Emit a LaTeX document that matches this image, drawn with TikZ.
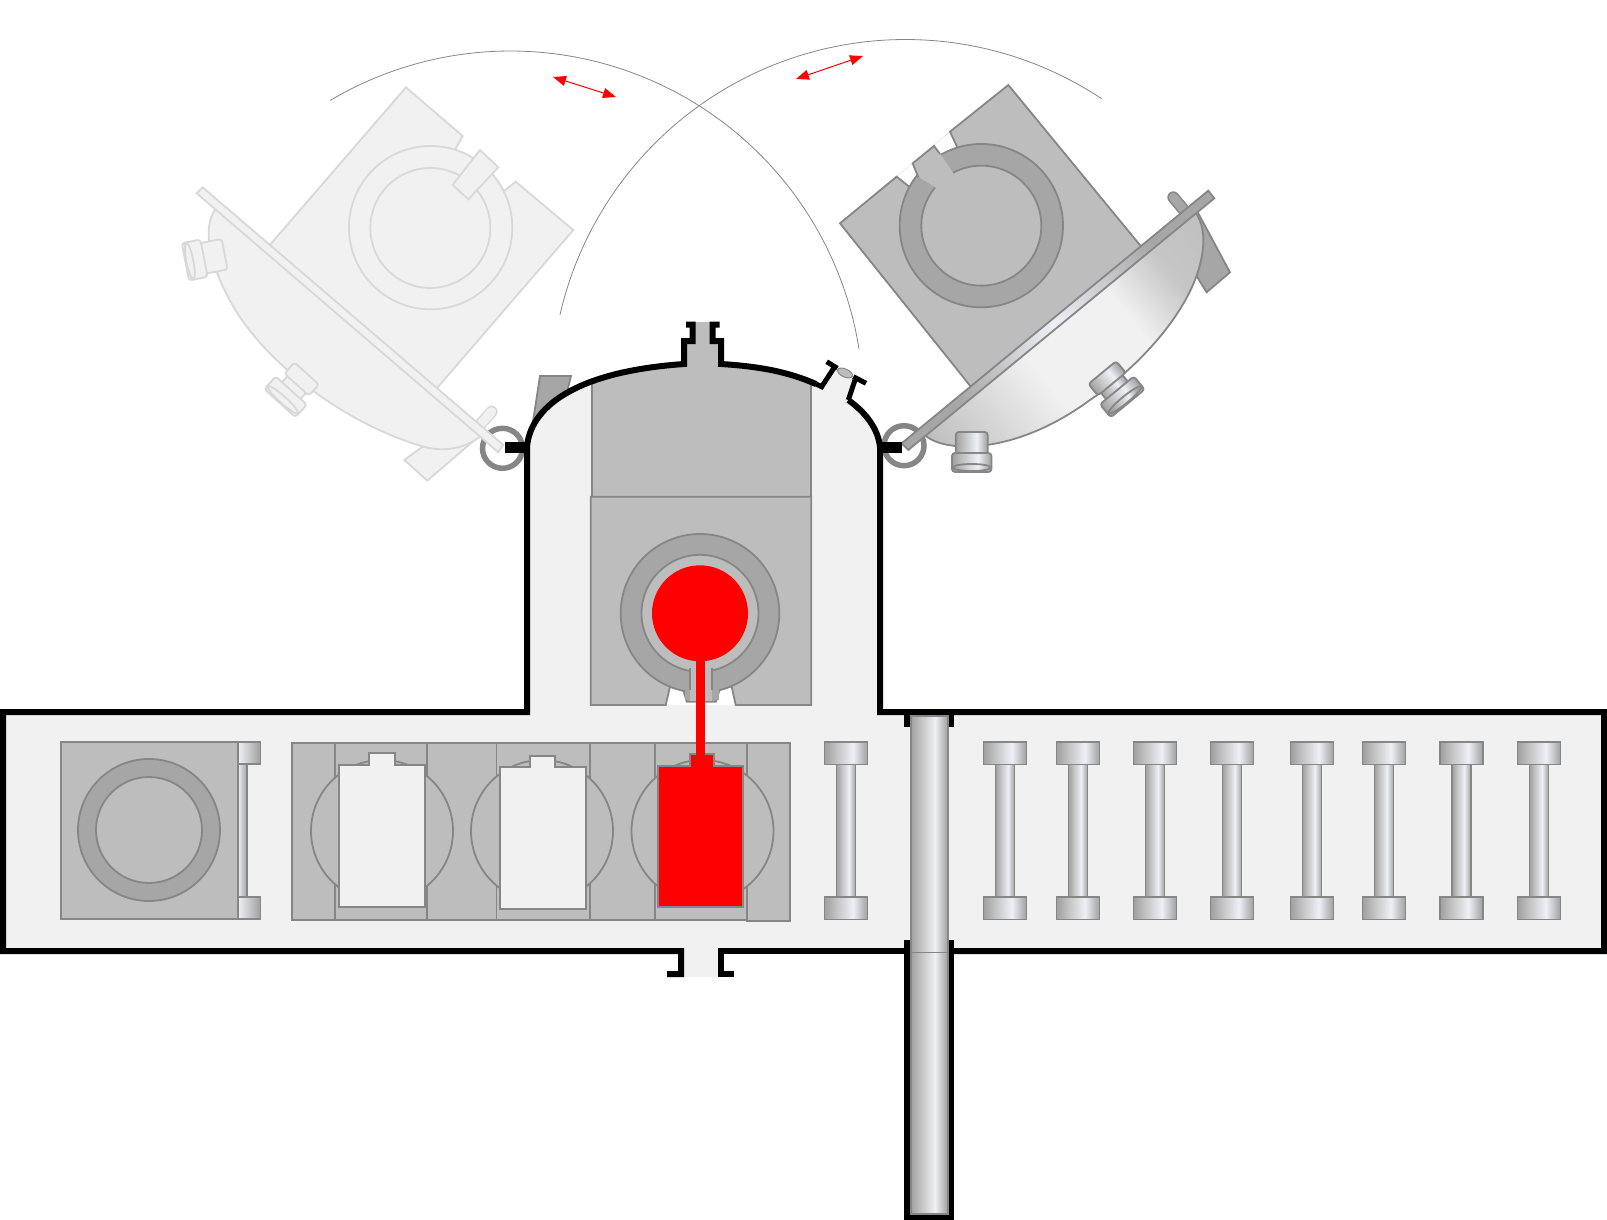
\documentclass[tikz,border=0pt]{standalone}
\usetikzlibrary{arrows.meta}
\definecolor{chamberGray}{HTML}{F1F1F1}
\definecolor{partGray}{HTML}{BDBDBD}
\definecolor{ringGray}{HTML}{A6A6A6}
\definecolor{edgeGray}{HTML}{868686}
\definecolor{fadeGray}{HTML}{D8D8D8}
\definecolor{metalDark}{HTML}{A0A0A0}
\definecolor{metalMid}{HTML}{C6C6C6}
\definecolor{metalLight}{HTML}{EEF0F5}
\pgfdeclarehorizontalshading{metalBar}{100bp}{color(0bp)=(metalDark); color(25bp)=(metalDark);
  color(40bp)=(metalMid); color(58bp)=(metalLight); color(75bp)=(metalDark); color(100bp)=(metalDark)}
\pgfdeclarehorizontalshading{metalHalf}{100bp}{color(0bp)=(metalLight); color(25bp)=(metalLight);
  color(75bp)=(metalDark); color(100bp)=(metalDark)}
% along the door axis, measured from the hinge
\pgfdeclarehorizontalshading{bowlMetal}{500pt}{color(0pt)=(metalDark); color(40pt)=(partGray);
  color(170pt)=(chamberGray); color(275pt)=(chamberGray); color(335pt)=(metalMid); color(420pt)=(partGray)}
\pgfdeclarehorizontalshading{plateMetal}{500pt}{color(0pt)=(ringGray); color(90pt)=(ringGray);
  color(212pt)=(metalLight); color(340pt)=(ringGray); color(420pt)=(ringGray)}
\tikzset{%
  >={Triangle[width=10pt,length=13pt]},
  % Specifications for style of shapes:
        shell/.style = {draw=black, line width=6pt},
         part/.style = {draw=edgeGray, line width=1.8pt, fill=partGray},
     ringPart/.style = {part, fill=ringGray},
        metal/.style = {draw=edgeGray, line width=1.8pt, shade, shading=metalBar},
    halfMetal/.style = {metal, shading=metalHalf},
        faded/.style = {draw=fadeGray, line width=1.8pt, fill=chamberGray},
        swing/.style = {draw=edgeGray, line width=0.8pt},
       motion/.style = {<->, red, line width=1pt},
}
% door port: position, rotation, looks, half widths of both parts, lower end of the first, upper end of the second
\newcommand{\doorPort}[7]{%
  \begin{scope}[shift={#1}, rotate=#2]
    \path[#3] (-#4+4,#6-2) rectangle (#4-4,#7+2);
    \path[#3, rounded corners=3pt] (-#4,#6) -- (-#4,-20) -- (#4,-20) -- (#4,#6) -- cycle;
    \path[#3, rounded corners=3pt] (-#5,#7) -- (#5,#7) -- (#5,20) -- (-#5,20) -- cycle;
    \path[#3] (0,15.5) ellipse (#5-0.7 and 3.5);
  \end{scope}}
\begin{document}
\begin{tikzpicture}[x=1pt, y=1pt, yscale=-1, line join=miter]
  \useasboundingbox (0,0) rectangle (1607,1220);

  % swing of the doors
  \draw[swing] (510.3,404) ++(-120.7:353pt) arc[start angle=-120.7, end angle=-9, radius=353pt];
  \draw[swing] (905.5,394) ++(-167.1:354.5pt) arc[start angle=-167.1, end angle=-56.4, radius=354.5pt];
  \coordinate (swingLeftA) at (553,77);
  \coordinate (swingLeftB) at (616,97);
  \coordinate (swingRightA) at (796,79);
  \coordinate (swingRightB) at (863,56);
  \draw[motion] (swingLeftA) -- (swingLeftB);
  \draw[motion] (swingRightA) -- (swingRightB);

  % hinges
  \draw[edgeGray, line width=5.5pt] (502.5,448.3) circle (20);
  \draw[edgeGray, line width=5.5pt] (904,445.7) circle (20);

  % open door, faded
  \begin{scope}[shift={(170,60)}, scale=0.3333]
    \path[faded] (703,1200) -- (772,1262) -- (920,1135) -- (840,1100) -- cycle;
    \path[faded] (708,82) -- (878,228) -- (855,270) -- (895,292) -- (1000,395) -- (1037,365)
      -- (1210,510) -- (792,995) -- (290,566) -- cycle;
    \path[faded] (782,503) circle (245);
    \path[faded] (781,504) circle (180);
    \path[faded] (930,270) -- (985,322) -- (895,418) -- (848,375) -- cycle;
    \draw[fadeGray, line width=12pt, line cap=round] (965,1055) -- (925,1100);
    \draw[chamberGray, line width=9pt, line cap=round] (965,1055) -- (925,1100);
    \path[faded] (135,430) -- (135,450) .. controls (100,500) and (110,600) .. (190,740)
      .. controls (290,910) and (520,1090) .. (760,1160)
      .. controls (830,1180) and (900,1160) .. (940,1121) -- cycle;
    \path[faded] (98,382) -- (80,400) -- (985,1177) -- (1000,1155) -- cycle;
  \end{scope}
  \doorPort{(205,258)}{79}{faded}{15.5}{19}{3}{1}
  \doorPort{(293.3,388.3)}{42}{faded}{16.5}{21}{-5}{3}

  % open door, right
  \begin{scope}[shift={(840,60)}, scale=0.3333]
    \draw[edgeGray, line width=12pt, line cap=round] (1000,412) -- (1040,460);
    \draw[ringGray, line width=9pt, line cap=round] (1000,412) -- (1040,460);
    \path[ringPart] (1075,460) -- (1170,637) -- (1100,697) -- (1040,600) -- cycle;
    \draw[partGray!60, line width=0.3pt] (170,350) -- (330,215);
    \path[part] (0,490) -- (170,350) -- (210,382) -- (352,262) -- (330,215) -- (505,75)
      -- (912,570) -- (402,992) -- cycle;
    \path[ringPart] (424,497) circle (245);
    \path[part] (424,497) circle (180);
    \fill[partGray] (218,310) -- (282,258) -- (300,280) -- (342,343) -- (290,385) -- (238,352) -- cycle;
    \draw[edgeGray, line width=1.8pt] (235,352) -- (218,310) -- (282,258) -- (300,282);
    % bowl and plate, the shading runs along the door
    \begin{scope}
      \clip (250,1115) -- (250,1120) .. controls (300,1180) and (520,1190) .. (750,1020)
        .. controls (900,920) and (1090,720) .. (1090,540)
        .. controls (1090,510) and (1085,490) .. (1070,462) -- (1070,439) -- cycle;
      \node (bowlShade) [rotate=39.5, inner sep=0pt] at (606,760) {\pgfuseshading{bowlMetal}};
    \end{scope}
    \draw[edgeGray, line width=1.8pt] (250,1120) .. controls (300,1180) and (520,1190) .. (750,1020)
      .. controls (900,920) and (1090,720) .. (1090,540)
      .. controls (1090,510) and (1085,490) .. (1070,462);
    \begin{scope}
      \clip (1105,392) -- (1123,415) -- (205,1170) -- (185,1150) -- cycle;
      \node (plateShade) [rotate=39.5, inner sep=0pt] at (606,760) {\pgfuseshading{plateMetal}};
    \end{scope}
    \draw[edgeGray, line width=1.8pt] (1105,392) -- (1123,415) -- (205,1170) -- (185,1150) -- cycle;
  \end{scope}
  \doorPort{(971.7,452)}{0}{metal}{16}{19.7}{3}{1}
  \doorPort{(1115,388)}{-39.5}{metal, shading angle=39.5}{18}{22}{-5}{3}

  % arm of the closed door
  \path[ringPart] (540,376) -- (571,376) -- (565,400) -- (532,428) -- cycle;

  % chamber
  \fill[chamberGray] (3,712) -- (527,712) -- (527,447) .. controls (530,410) and (570,372) .. (684,364)
    -- (684,341) -- (692.5,341) -- (692.5,325) -- (712.5,325) -- (712.5,341) -- (721,341) -- (721,364)
    .. controls (770,367) and (795,375) .. (816,384) -- (821.7,386.7) -- (834,366) -- (856,380)
    -- (848.3,400) .. controls (865,412) and (878,428) .. (880,447) -- (880,712)
    -- (1604,712) -- (1604,951) -- (718,951) -- (718,977) -- (684,977) -- (684,951) -- (3,951) -- cycle;
  \fill[partGray] (695,322) -- (712,322) -- (712,341) -- (718,341) -- (718,370) -- (687,370) -- (687,341)
    -- (695,341) -- cycle;

  % furnace in the dome
  \begin{scope}
    \clip (527,520) -- (527,447) .. controls (530,410) and (570,372) .. (684,364) -- (721,364)
      .. controls (770,367) and (795,375) .. (816,384) -- (848.3,400)
      .. controls (865,412) and (878,428) .. (880,447) -- (880,520) -- cycle;
    \path[part] (592.3,340) rectangle (811.3,496.7);
  \end{scope}
  \fill[white] (665.7,705) -- (670,680) -- (732,680) -- (735.7,705) -- cycle;
  \path[part] (590.7,496.7) -- (811.3,496.7) -- (811.3,705) -- (735.7,705) -- (731.7,686.7) -- (670,686.7)
    -- (665.7,705) -- (590.7,705) -- cycle;
  \path[ringPart] (683.3,690) -- (686.7,701.7) -- (716,701.7) -- (719.5,690) -- cycle;
  \path[ringPart] (700,613.3) circle (79.3);
  \fill[ringGray] (684.5,684) rectangle (718.5,700);
  \path[part] (700,613.3) circle (58.5);
  \fill[partGray] (690,655) rectangle (712,701);
  \draw[edgeGray, line width=1.8pt] (690,668) -- (690,690) (712,668) -- (712,690);
  \fill[red] (700,613.3) circle (48);

  % block next to the furnace
  \path[halfMetal] (238,764) rectangle (247,897);
  \path[halfMetal] (238,741.7) rectangle (260.4,764);
  \path[halfMetal] (238,896.7) rectangle (260.4,919);
  \path[part] (61,741.7) rectangle (238,919);
  \path[ringPart] (149,830) circle (71);
  \path[part] (149,830) circle (53);

  % rack with the cells
  \path[part] (292,743) rectangle (746.7,920);
  \foreach \divx in {335,427,496.4,590,655}
    \draw[edgeGray, line width=1.8pt] (\divx,743) -- (\divx,920);
  \path[part] (746.7,743) rectangle (790,921);
  \foreach \circx in {382,542,702.5}
    \path[part] (\circx,831) circle (71);
  \path[part, fill=chamberGray] (338.6,765) -- (369,765) -- (369,753.3) -- (394.6,753.3) -- (394.6,765)
    -- (425,765) -- (425,906.7) -- (338.6,906.7) -- cycle;
  \path[part, fill=chamberGray] (500,766.7) -- (529.6,766.7) -- (529.6,755.7) -- (555,755.7) -- (555,766.7)
    -- (586,766.7) -- (586,909) -- (500,909) -- cycle;
  \path[part, fill=red] (658.3,765.7) -- (690,765.7) -- (690,754.3) -- (714,754.3) -- (714,765.7)
    -- (743.3,765.7) -- (743.3,906.7) -- (658.3,906.7) -- cycle;
  \fill[red] (696,655) rectangle (705,760);

  % spools
  \foreach \barx in {846,1005,1078,1155,1232,1312,1384,1461.3,1539} {
    \path[metal] (\barx-9.5,764) rectangle (\barx+9.5,897);
    \path[metal] (\barx-21.5,742) rectangle (\barx+21.5,764.5);
    \path[metal] (\barx-21.5,897) rectangle (\barx+21.5,919.5);
  }

  % walls
  \draw[shell] (667,974) -- (681,974) -- (681,951) -- (3,951) -- (3,712) -- (527,712) -- (527,447)
    .. controls (530,410) and (570,372) .. (684,364)
    -- (684,341) -- (692.5,341) -- (692.5,324.7) -- (686,324.7);
  \draw[shell] (719.5,324.7) -- (712.5,324.7) -- (712.5,341) -- (721,341) -- (721,364)
    .. controls (770,367) and (795,375) .. (816,384);
  \draw[shell, line width=5pt] (816,384) -- (821.7,386.7) -- (834.5,367);
  \draw[shell, line width=5pt] (826.7,361.7) -- (837.3,368.3);
  \draw[shell, line width=5pt] (853.3,376.7) -- (866,383.3);
  \draw[shell, line width=5pt] (855,380) -- (848.3,400);
  \draw[shell] (848.3,400) .. controls (865,412) and (878,428) .. (880,447) -- (880,712) -- (1604,712)
    -- (1604,951) -- (951,951);
  \draw[shell] (733.7,974) -- (721,974) -- (721,951) -- (904,951);
  \fill[black] (505,442) rectangle (530,453);
  \fill[black] (877,442) rectangle (902,453);
  \path[draw=edgeGray, line width=1pt, fill=partGray, rotate around={25:(845,373)}] (845,373) ellipse (8 and 4);

  % rod
  \draw[shell] (907.3,715) -- (907.3,727);
  \draw[shell] (951,715) -- (951,727);
  \draw[shell] (907.3,940) -- (907.3,1217) -- (951,1217) -- (951,940);
  \path[metal] (910.6,716) rectangle (947.7,1214);
  \draw[edgeGray, line width=1pt] (910.6,952.7) -- (947.7,952.7);
\end{tikzpicture}
\end{document}
